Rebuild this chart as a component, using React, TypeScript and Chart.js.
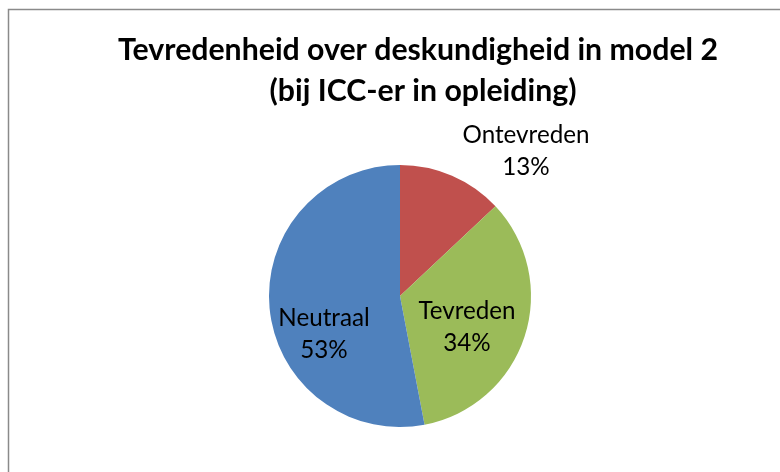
import React, { useEffect, useRef } from "react";
import { Chart, registerables } from "chart.js";

Chart.register(...registerables);

const categories = ["Ontevreden", "Tevreden", "Neutraal"];
const values = [13, 34, 53];
const colors = ["#C0504D", "#9BBB59", "#4F81BD"];
const titleLines = ["Tevredenheid over deskundigheid in model 2", "(bij ICC-er in opleiding)"];

const FONT = "Lato, 'Open Sans', 'DejaVu Sans', sans-serif";

function fitSize(ctx: CanvasRenderingContext2D, text: string, weight: string, target: number) {
  ctx.font = `${weight} 20px ${FONT}`;
  const w = ctx.measureText(text).width;
  return (20 * target) / w;
}

// label offsets relative to the pie centre (dx, dy of text centre), in px
const labelOffsets: Record<string, [number, number]> = {
  Ontevreden: [126, -145],
  Tevreden: [67, 31],
  Neutraal: [-76, 38],
};

const decorPlugin = {
  id: "decor",
  beforeDraw(chart: any) {
    const ctx = chart.ctx as CanvasRenderingContext2D;
    ctx.save();
    ctx.fillStyle = "#ffffff";
    ctx.fillRect(0, 0, chart.width, chart.height);
    ctx.strokeStyle = "#8a8a8a";
    ctx.lineWidth = 1.5;
    ctx.beginPath();
    ctx.moveTo(8.5, chart.height + 5);
    ctx.lineTo(8.5, 9.5);
    ctx.lineTo(chart.width + 5, 9.5);
    ctx.stroke();
    ctx.restore();
  },
  afterDraw(chart: any) {
    const ctx = chart.ctx as CanvasRenderingContext2D;
    ctx.save();
    // title
    const ts = fitSize(ctx, titleLines[0], "bold", 600);
    ctx.font = `bold ${ts}px ${FONT}`;
    ctx.fillStyle = "#000";
    ctx.textAlign = "center";
    ctx.textBaseline = "middle";
    ctx.fillText(titleLines[0], 418, 50);
    ctx.fillText(titleLines[1], 423, 91);

    // labels
    const meta = chart.getDatasetMeta(0);
    const arc0 = meta.data[0];
    const cx = arc0.x;
    const cy = arc0.y;
    const ls = fitSize(ctx, "Ontevreden", "normal", 127);
    ctx.font = `normal ${ls}px ${FONT}`;
    const total = values.reduce((a, b) => a + b, 0);
    categories.forEach((c, i) => {
      const [dx, dy] = labelOffsets[c];
      const pct = Math.round((values[i] / total) * 100) + "%";
      ctx.fillText(c, cx + dx, cy + dy - 16);
      ctx.fillText(pct, cx + dx, cy + dy + 16);
    });
    ctx.restore();
  },
};

export default function App() {
  const ref = useRef<HTMLCanvasElement>(null);
  useEffect(() => {
    const chart = new Chart(ref.current!, {
      type: "pie",
      data: {
        labels: categories,
        datasets: [
          {
            data: values,
            backgroundColor: colors,
            borderWidth: 0,
          },
        ],
      },
      options: {
        responsive: false,
        animation: false,
        layout: { padding: { left: 269, right: 249, top: 165, bottom: 45 } },
        plugins: {
          legend: { display: false },
          title: { display: false },
          tooltip: { enabled: false },
        },
      },
      plugins: [decorPlugin],
    });
    return () => chart.destroy();
  }, []);
  return (
    <div style={{ position: "absolute", left: 0, top: 0, width: 780, height: 472 }}>
      <canvas ref={ref} width={780} height={472} style={{ width: 780, height: 472 }} />
    </div>
  );
}
